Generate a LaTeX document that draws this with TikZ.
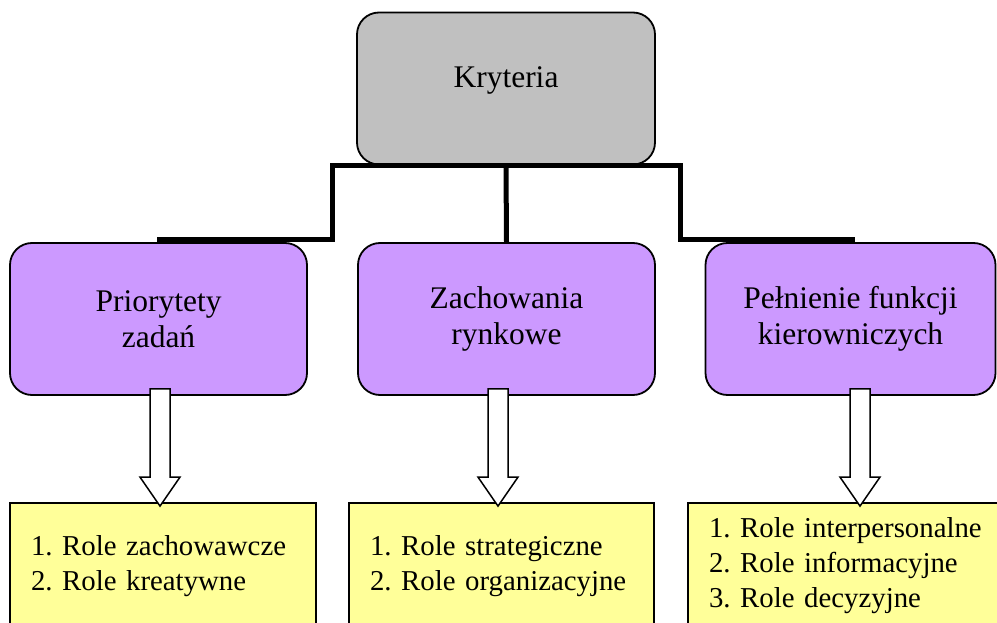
\documentclass[tikz,border=0pt]{standalone}
\usepackage{fontspec}
\setmainfont{Liberation Serif}
\frenchspacing
\definecolor{critgray}{RGB}{192,192,192}
\definecolor{lilac}{RGB}{204,153,255}
\definecolor{paleyellow}{RGB}{255,255,153}
\usetikzlibrary{positioning, calc}

% hollow block arrow: from node #1 down to node #2, shifted sideways by #3
\newcommand{\hollowarrow}[3]{%
    \coordinate (AX) at ($(#1.south)+(#3,0)$);
    \draw[blockarrow] ($(AX)+(-10,-7)$) -- ($(AX)+(10,-7)$)
        -- ($(AX |- #2.north)+(10,-25)$) -- ($(AX |- #2.north)+(20,-25)$)
        -- ($(AX |- #2.north)+(0,4)$)
        -- ($(AX |- #2.north)+(-20,-25)$) -- ($(AX |- #2.north)+(-10,-25)$) -- cycle;
}

\begin{document}
\begin{tikzpicture}[
        x=1pt, y=-1pt,
        topbox/.style={rectangle, draw=black, line width=1.8pt, fill=critgray, rounded corners=22pt, minimum width=298pt, minimum height=152pt, font=\fontsize{31.5}{36}\selectfont, text height=14pt, text depth=15pt},
        crit/.style={rectangle, draw=black, line width=1.8pt, fill=lilac, rounded corners=22pt, minimum width=297pt, minimum height=152pt, align=center, font=\fontsize{31.5}{36}\selectfont},
        role/.style={rectangle, draw=black, line width=1.8pt, fill=paleyellow, minimum height=126pt, inner xsep=21pt, inner ysep=0pt, align=left, font=\fontsize{28.8}{35}\selectfont},
        tree/.style={line width=5pt, black, line join=miter},
        blockarrow/.style={draw=black, line width=1.5pt, fill=white, line join=miter}
    ]
        \useasboundingbox (0,0) rectangle (997,623);

        % Top criterion
        \node[topbox] (KRYT) at (506,88.5) {Kryteria};

        % Criteria
        \node[crit] (PRIO) at (158.5,319) {Priorytety\\zadań};
        \node[crit] (ZACH) at (506.5,319) {Zachowania\\rynkowe};
        \node[crit, minimum width=290pt] (PELN) at (850.5,319) {Pełnienie funkcji\\kierowniczych};

        % Roles
        \node[role, text width=264pt] (ROLE_P) at (163,566) {1. Role zachowawcze\\2. Role kreatywne};
        \node[role, text width=263pt] (ROLE_Z) at (501.5,566) {1. Role strategiczne\\2. Role organizacyjne};
        \node[role, text width=280pt] (ROLE_K) at (849,566) {1. Role interpersonalne\\2. Role informacyjne\\3. Role decyzyjne};

        % Tree connectors
        \coordinate (JL) at ($(PRIO.north east)!0.5!(ZACH.north west)$);
        \coordinate (JR) at ($(ZACH.north east)!0.5!(PELN.north west)$);
        \draw[tree] ($(PRIO.north)+(-1.5,-3)$) -| (JL |- KRYT.south) -- (JR |- KRYT.south) |- ($(PELN.north)+(4.5,-3)$);
        \draw[tree] (KRYT.south) -- (ZACH.north);

        % Criteria to roles
        \hollowarrow{PRIO}{ROLE_P}{1.5}
        \hollowarrow{ZACH}{ROLE_Z}{-8.5}
        \hollowarrow{PELN}{ROLE_K}{9.5}
    \end{tikzpicture}
\end{document}
